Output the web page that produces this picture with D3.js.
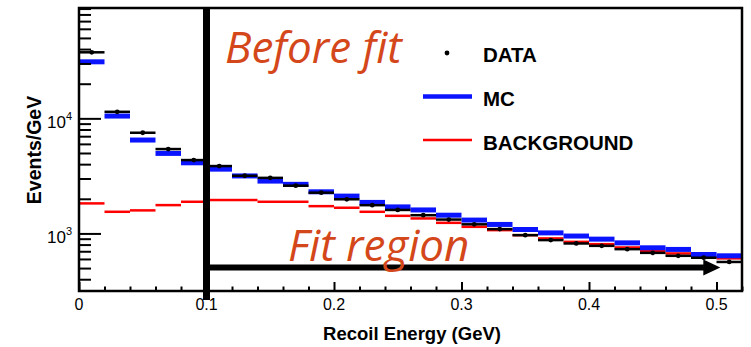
<!DOCTYPE html>
<html>
<head>
<meta charset="utf-8">
<script src="https://cdn.jsdelivr.net/npm/d3@7"></script>
<style>
  html, body { margin: 0; padding: 0; background: #fff; }
  svg { display: block; }
  .sans { font-family: "Liberation Sans", Arial, Helvetica, sans-serif; }
  .note { font-family: "Open Sans", sans-serif; font-style: italic; fill: #d4471a; }
</style>
</head>
<body>
<svg id="chart" width="751" height="347"></svg>
<script>
// Recoil-energy bins (lower edges, GeV), each 0.02 GeV wide
const binLow = [0.00, 0.02, 0.04, 0.06, 0.08, 0.10, 0.12, 0.14, 0.16, 0.18,
                0.20, 0.22, 0.24, 0.26, 0.28, 0.30, 0.32, 0.34, 0.36, 0.38,
                0.40, 0.42, 0.44, 0.46, 0.48, 0.50];
const binWidth = 0.02;

// Events/GeV per bin
const dataVals = [37500, 11400, 7500, 5410, 4340, 3850, 3170, 3040, 2600, 2260,
                  1980, 1760, 1600, 1440, 1320, 1200, 1090, 966, 875, 818,
                  780, 730, 678, 639, 615, 565];
const mcVals = [31000, 10470, 6480, 4960, 4110, 3620, 3160, 2850, 2670, 2300,
                2110, 1860, 1700, 1600, 1440, 1306, 1197, 1082, 1011, 949,
                892, 828, 750, 726, 656, 639];
const bgVals = [1824, 1542, 1586, 1762, 1884, 1951, 1951, 1884, 1884, 1726,
                1672, 1542, 1422, 1350, 1236, 1141, 1068, 966, 905, 845,
                807, 755, 702, 670, 626, 607];

// Axis ticks
const xMajor = [0, 0.1, 0.2, 0.3, 0.4, 0.5];
const xMajorLabels = ["0", "0.1", "0.2", "0.3", "0.4", "0.5"];
const xMinor = [0.02, 0.04, 0.06, 0.08, 0.12, 0.14, 0.16, 0.18, 0.22, 0.24, 0.26, 0.28,
                0.32, 0.34, 0.36, 0.38, 0.42, 0.44, 0.46, 0.48, 0.52];
const yMajor = [1000, 10000];
const yMajorExp = ["3", "4"];
const yMinor = [400, 500, 600, 700, 800, 900, 2000, 3000, 4000, 5000, 6000, 7000, 8000, 9000,
                20000, 30000, 40000, 50000, 60000, 70000, 80000, 90000];

// Legend entries
const legendLabels = ["DATA", "MC", "BACKGROUND"];

// Fit-region boundaries (GeV)
const fitStart = 0.1;
const fitArrowEnd = 0.503;
const fitArrowLevel = 505;

const margin = { left: 79, right: 9, top: 8, bottom: 56 };
const W = 751, H = 347;
const plotW = W - margin.left - margin.right;
const plotH = H - margin.top - margin.bottom;

const svg = d3.select("#chart");
const g = svg.append("g").attr("transform", `translate(${margin.left},${margin.top})`);

const x = d3.scaleLinear().domain([0, 0.52]).range([0, plotW]);
const y = d3.scaleLog().domain([316, 91000]).range([plotH, 0]);

// Histograms: horizontal segments per bin
function drawSegments(vals, color, width, cls) {
  g.append("g").attr("class", cls)
    .selectAll("line").data(vals).join("line")
    .attr("x1", (d, i) => x(binLow[i]))
    .attr("x2", (d, i) => x(binLow[i] + binWidth))
    .attr("y1", d => y(d))
    .attr("y2", d => y(d))
    .attr("stroke", color)
    .attr("stroke-width", width);
}
drawSegments(bgVals, "#ff0000", 2.5, "background");
drawSegments(mcVals, "#0a14ff", 5, "mc");

// Data points with bin-width error bars
const dataG = g.append("g").attr("class", "data");
dataG.selectAll("line").data(dataVals).join("line")
  .attr("x1", (d, i) => x(binLow[i]))
  .attr("x2", (d, i) => x(binLow[i] + binWidth))
  .attr("y1", d => y(d))
  .attr("y2", d => y(d))
  .attr("stroke", "#000")
  .attr("stroke-width", 2.5);
dataG.selectAll("circle").data(dataVals).join("circle")
  .attr("cx", (d, i) => x(binLow[i] + binWidth / 2))
  .attr("cy", d => y(d))
  .attr("r", 2.4)
  .attr("fill", "#000");

// Axis ticks (drawn inward)
const xAxisMajor = d3.axisBottom(x).tickValues(xMajor).tickSize(-9).tickFormat("");
const xAxisMinor = d3.axisBottom(x).tickValues(xMinor).tickSize(-4.5).tickFormat("");
[xAxisMajor, xAxisMinor].forEach(ax => {
  const a = g.append("g").attr("transform", `translate(0,${plotH})`).call(ax);
  a.select(".domain").remove();
  a.selectAll("line").attr("stroke", "#000").attr("stroke-width", 2);
});
const yAxisMajor = d3.axisLeft(y).tickValues(yMajor).tickSize(-22).tickFormat("");
const yAxisMinor = d3.axisLeft(y).tickValues(yMinor).tickSize(-12).tickFormat("");
[yAxisMajor, yAxisMinor].forEach(ax => {
  const a = g.append("g").call(ax);
  a.select(".domain").remove();
  a.selectAll("line").attr("stroke", "#000").attr("stroke-width", 2);
});

// Frame
g.append("rect")
  .attr("x", 0).attr("y", 0).attr("width", plotW).attr("height", plotH)
  .attr("fill", "none").attr("stroke", "#000").attr("stroke-width", 2.5);

// Tick labels
g.append("g").selectAll("text").data(xMajor).join("text")
  .attr("class", "sans")
  .attr("x", d => x(d))
  .attr("y", plotH + 19)
  .attr("text-anchor", "middle")
  .attr("font-size", 16)
  .text((d, i) => xMajorLabels[i]);

const yl = g.append("g").selectAll("text").data(yMajor).join("text")
  .attr("class", "sans")
  .attr("x", -7)
  .attr("y", d => y(d) + 10)
  .attr("text-anchor", "end")
  .attr("font-size", 17);
yl.append("tspan").text("10");
yl.append("tspan").attr("dy", -8).attr("font-size", 11).text((d, i) => yMajorExp[i]);

// Axis titles
svg.append("text").attr("class", "sans")
  .attr("x", 412)
  .attr("y", 340)
  .attr("text-anchor", "middle")
  .attr("font-size", 18.5).attr("font-weight", "bold")
  .text("Recoil Energy (GeV)");
svg.append("text").attr("class", "sans")
  .attr("transform", `translate(41,150) rotate(-90)`)
  .attr("text-anchor", "middle")
  .attr("font-size", 19.5).attr("font-weight", "bold")
  .text("Events/GeV");

// Fit-region marker line and arrow
g.append("line")
  .attr("x1", x(fitStart)).attr("x2", x(fitStart))
  .attr("y1", 0).attr("y2", plotH + 9)
  .attr("stroke", "#000").attr("stroke-width", 7);
const ay = y(fitArrowLevel);
const tipX = x(fitArrowEnd);
g.append("line")
  .attr("x1", x(fitStart)).attr("x2", tipX - 14)
  .attr("y1", ay).attr("y2", ay)
  .attr("stroke", "#000").attr("stroke-width", 6);
g.append("path")
  .attr("d", `M${tipX},${ay} L${tipX - 17},${ay - 8} L${tipX - 17},${ay + 8} Z`)
  .attr("fill", "#000");

// Annotations
svg.append("text").attr("class", "note")
  .attr("x", 225).attr("y", 63)
  .attr("font-size", 44)
  .text("Before fit");
svg.append("text").attr("class", "note")
  .attr("x", 288).attr("y", 261)
  .attr("font-size", 44)
  .text("Fit region");

// Legend
const lg = svg.append("g");
lg.append("circle").attr("cx", 447).attr("cy", 53).attr("r", 2.4).attr("fill", "#000");
lg.append("line").attr("x1", 423).attr("x2", 472).attr("y1", 96.5).attr("y2", 96.5)
  .attr("stroke", "#0a14ff").attr("stroke-width", 4.5);
lg.append("line").attr("x1", 423).attr("x2", 472).attr("y1", 140).attr("y2", 140)
  .attr("stroke", "#ff0000").attr("stroke-width", 2.5);
lg.selectAll("text").data(legendLabels).join("text")
  .attr("class", "sans")
  .attr("x", 483)
  .attr("y", (d, i) => 61.5 + i * 44)
  .attr("font-size", 20.5).attr("font-weight", "bold")
  .text(d => d);
</script>
</body>
</html>
